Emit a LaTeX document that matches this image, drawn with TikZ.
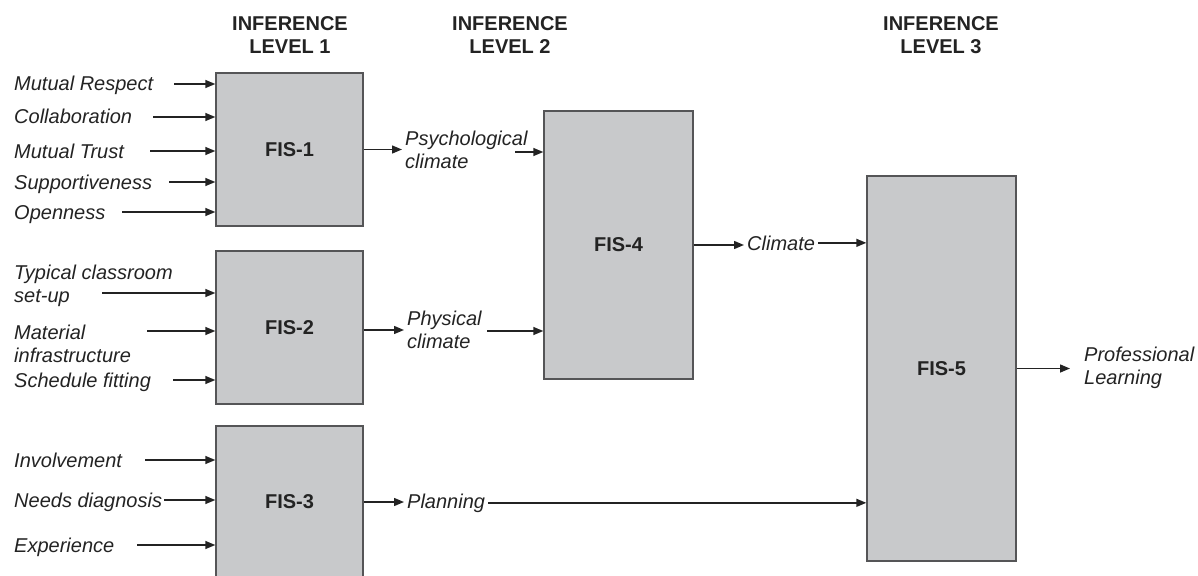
\documentclass[tikz,border=0pt]{standalone}
\usepackage{fontspec}
\setmainfont{Liberation Sans}
\usetikzlibrary{arrows.meta, positioning}

\definecolor{boxgray}{RGB}{200,201,203}
\definecolor{boxline}{RGB}{85,85,87}
\definecolor{ink}{RGB}{35,35,35}

\begin{document}
\begin{tikzpicture}[x=1pt, y=-1pt,
    every node/.style={text=ink},
    fis/.style={draw=boxline, line width=1.4pt, fill=boxgray, font=\fontsize{20}{24}\selectfont\bfseries, inner sep=0pt},
    head/.style={align=center, inner sep=0pt, font=\fontsize{20}{23}\selectfont\bfseries},
    inlbl/.style={inner sep=0pt, align=left, font=\fontsize{20}{23.5}\selectfont\itshape},
    outlbl/.style={inner xsep=3pt, inner ysep=0pt, align=left, font=\fontsize{20}{23.5}\selectfont\itshape},
    arr/.style={draw=ink, line width=1.4pt, -{Triangle[length=10pt,width=8pt]}}]
  \useasboundingbox (0,0) rectangle (1198,575);

  % level headings
  \node[head, anchor=north] (lvl1) at (290,16.5) {INFERENCE\\LEVEL 1};
  \node[head, anchor=north] (lvl2) at (510,16.5) {INFERENCE\\LEVEL 2};
  \node[head, anchor=north] (lvl3) at (941,16.5) {INFERENCE\\LEVEL 3};

  % inference systems
  \node[fis, minimum width=147pt, minimum height=153pt] (fis1) at (289.5,149.5) {FIS-1};
  \node[fis, minimum width=147pt, minimum height=153pt] (fis2) at (289.5,327.5) {FIS-2};
  \node[fis, minimum width=147pt, minimum height=152pt] (fis3) at (289.5,502) {FIS-3};
  \node[fis, minimum width=149pt, minimum height=268pt] (fis4) at (618.5,245) {FIS-4};
  \node[fis, minimum width=149pt, minimum height=385pt] (fis5) at (941.5,368.5) {FIS-5};

  % inputs of FIS-1 and FIS-3: text, arrow height, arrow tail
  \foreach \txt/\ay/\ax [count=\i] in {Mutual Respect/84/174, Collaboration/117/153,
      Mutual Trust/151/150, Supportiveness/182/169, Openness/212/122} {
    \node[inlbl, anchor=base west] (a\i) at (14,\ay+7) {\txt};
    \coordinate (a\i-tail) at (\ax,\ay);
    \draw[arr] (a\i-tail) -- (a\i-tail -| fis1.west);
  }
  \foreach \txt/\ay/\ax [count=\i] in {Involvement/460/145, Needs diagnosis/500/164,
      Experience/545/137} {
    \node[inlbl, anchor=base west] (c\i) at (14,\ay+7) {\txt};
    \coordinate (c\i-tail) at (\ax,\ay);
    \draw[arr] (c\i-tail) -- (c\i-tail -| fis3.west);
  }

  % inputs of FIS-2
  \node[inlbl, anchor=north west] (b1) at (14,264.7) {Typical classroom\\set-up};
  \node[inlbl, anchor=north west] (b2) at (14,324.7) {Material\\infrastructure};
  \node[inlbl, anchor=base west] (b3) at (14,387) {Schedule fitting};
  \coordinate (b1-tail) at (102,293);
  \coordinate (b2-tail) at (147,331);
  \coordinate (b3-tail) at (173,380);
  \foreach \i in {1,2,3}
    \draw[arr] (b\i-tail) -- (b\i-tail -| fis2.west);

  % intermediate outputs
  \node[outlbl, anchor=north west] (psy) at (402,130.7) {Psychological\\climate};
  \node[outlbl, anchor=north west] (phys) at (404,310.7) {Physical\\climate};
  \node[outlbl, anchor=base west] (clim) at (744,250) {Climate};
  \node[outlbl, anchor=base west] (plan) at (404,508) {Planning};
  \node[outlbl, anchor=north west] (prof) at (1081,346.7) {Professional\\Learning};
  \coordinate (psy-tail) at (515,152);
  \coordinate (phys-tail) at (487,331);

  \draw[arr] (fis1.east) -- (fis1.east -| psy.west);
  \draw[arr] (psy-tail) -- (psy-tail -| fis4.west);
  \draw[arr] (fis2.east |- phys.west) -- (phys.west);
  \draw[arr] (phys-tail) -- (phys-tail -| fis4.west);
  \draw[arr] (fis4.east) -- (fis4.east -| clim.west);
  \draw[arr] (clim.east) -- (clim.east -| fis5.west);
  \draw[arr] (fis3.east) -- (fis3.east -| plan.west);
  \draw[arr] (plan.east) -- (plan.east -| fis5.west);
  \draw[arr, shorten >=11pt] (fis5.east) -- (fis5.east -| prof.west);
\end{tikzpicture}
\end{document}
